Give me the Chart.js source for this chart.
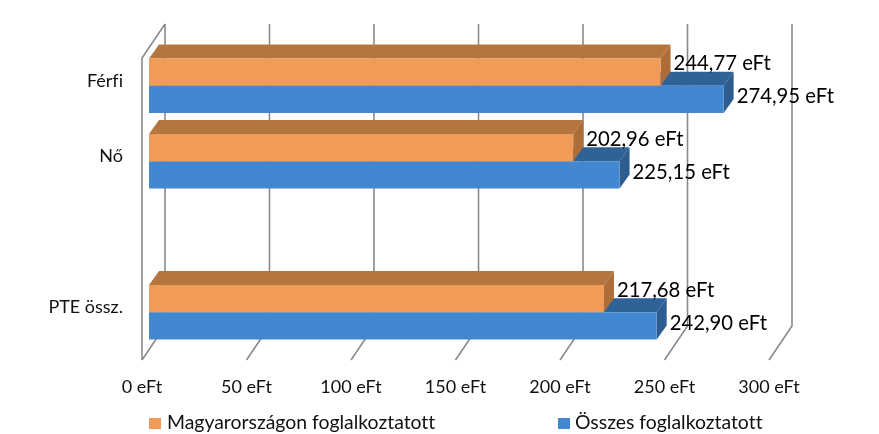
<!DOCTYPE html>
<html>
<head>
<meta charset="utf-8">
<title>Chart</title>
<script src="https://cdn.jsdelivr.net/npm/chart.js@4"></script>
<style>
    body { margin: 0; background: #fff; }
    #wrap { position: relative; width: 879px; height: 434px; overflow: hidden; }
    #chartLegend span { position: absolute; }
    #chartLegend .txt { font: 19.4px Lato, sans-serif; font-variant-ligatures: none; color: #111; top: 410px; white-space: nowrap; }
    #chartLegend .box { width: 12px; height: 11px; top: 418px; }
</style>
</head>
<body>
<div id="wrap">
    <canvas id="chart" width="879" height="434"></canvas>
    <div id="chartLegend"></div>
</div>
<script>
const categories = ['Férfi', 'Nő', '', 'PTE össz.'];
const seriesNames = ['Magyarországon foglalkoztatott', 'Összes foglalkoztatott'];
const hungaryValues = [244.77, 202.96, null, 217.68];
const allValues = [274.95, 225.15, null, 242.90];

const frontColors = ['#f09b57', '#4288d0'];
const topColors = ['#b5753f', '#2f6398'];
const sideColors = ['#ad6d39', '#2c5c90'];
const legendLeft = [149, 558];
const textLeft = [167, 575];

// fake 3d depth of the bars and of the walls, relative to the bar plane
const barDx = 10, barDy = -14;
const wallFrontDx = -7, wallBackDx = 16;
const wallFrontDy = 10, wallBackDy = -24;

function poly(ctx, pts, color) {
    ctx.fillStyle = color;
    ctx.beginPath();
    pts.forEach((p, i) => i ? ctx.lineTo(p[0], p[1]) : ctx.moveTo(p[0], p[1]));
    ctx.closePath();
    ctx.fill();
}

const fake3d = {
    id: 'fake3d',
    beforeDraw(chart) {
        // no "fi" ligature in the tick labels
        chart.ctx.textRendering = 'optimizeSpeed';
    },
    beforeDatasetsDraw(chart) {
        const ctx = chart.ctx;
        const x = chart.scales.x, y = chart.scales.y;
        const floorFront = y.bottom + wallFrontDy, floorBack = y.bottom + wallBackDy;
        const topFront = y.top + wallFrontDy, topBack = y.top + wallBackDy;

        ctx.save();
        ctx.strokeStyle = '#8a8a8a';
        ctx.lineWidth = 1.6;
        x.ticks.forEach(t => {
            const px = x.getPixelForValue(t.value);
            ctx.beginPath();
            ctx.moveTo(px + wallFrontDx, floorFront);
            ctx.lineTo(px + wallBackDx, floorBack);
            ctx.lineTo(px + wallBackDx, topBack);
            ctx.stroke();
        });
        // left wall
        const zero = x.getPixelForValue(0);
        ctx.beginPath();
        ctx.moveTo(zero + wallFrontDx, floorFront);
        ctx.lineTo(zero + wallFrontDx, topFront);
        ctx.lineTo(zero + wallBackDx, topBack);
        ctx.stroke();

        // blue goes first, orange side sits on top of it
        [1, 0].forEach(d => {
            chart.getDatasetMeta(d).data.forEach((bar, i) => {
                if (chart.data.datasets[d].data[i] === null) return;
                const top = bar.y - bar.height / 2, bottom = bar.y + bar.height / 2;
                poly(ctx, [[bar.base, top], [bar.base + barDx, top + barDy], [bar.x + barDx, top + barDy], [bar.x, top]], topColors[d]);
                poly(ctx, [[bar.x, top], [bar.x + barDx, top + barDy], [bar.x + barDx, bottom + barDy], [bar.x, bottom]], sideColors[d]);
            });
        });
        ctx.restore();
    },
    afterDatasetsDraw(chart) {
        const ctx = chart.ctx;
        ctx.save();
        ctx.font = '20.3px Lato, sans-serif';
        ctx.fillStyle = '#000';
        ctx.textBaseline = 'middle';
        chart.data.datasets.forEach((ds, d) => {
            chart.getDatasetMeta(d).data.forEach((bar, i) => {
                if (ds.data[i] === null) return;
                const label = ds.data[i].toFixed(2).replace('.', ',') + ' eFt';
                ctx.fillText(label, bar.x + 13, bar.y + (d === 0 ? -8.5 : -2.5));
            });
        });
        ctx.restore();
    }
};

new Chart(document.getElementById('chart'), {
    type: 'bar',
    data: {
        labels: categories,
        datasets: [
            { label: seriesNames[0], data: hungaryValues, backgroundColor: frontColors[0] },
            { label: seriesNames[1], data: allValues, backgroundColor: frontColors[1] }
        ]
    },
    options: {
        indexAxis: 'y',
        responsive: false,
        animation: false,
        categoryPercentage: 0.723,
        barPercentage: 1,
        layout: { padding: { top: 48, right: 103, left: 0, bottom: 0 } },
        plugins: { legend: { display: false }, tooltip: { enabled: false } },
        scales: {
            x: {
                min: 0,
                max: 300,
                grid: { display: false },
                border: { display: false },
                afterFit: s => { s.height = 84; },
                ticks: {
                    stepSize: 50,
                    autoSkip: false,
                    maxRotation: 0,
                    labelOffset: -7,
                    padding: 18,
                    color: '#111',
                    font: { family: 'Lato, sans-serif', size: 18 },
                    callback: v => v + ' eFt'
                }
            },
            y: {
                grid: { display: false },
                border: { display: false },
                afterFit: s => { s.width = 149; },
                ticks: {
                    autoSkip: false,
                    padding: 18,
                    labelOffset: -5,
                    color: '#111',
                    font: { family: 'Lato, sans-serif', size: 18 }
                }
            }
        }
    },
    plugins: [fake3d]
});

const chartLegendEl = document.getElementById('chartLegend');
seriesNames.forEach((name, i) => {
    const colorBox = document.createElement('span');
    colorBox.className = 'box';
    colorBox.style.left = legendLeft[i] + 'px';
    colorBox.style.backgroundColor = frontColors[i];
    const text = document.createElement('span');
    text.className = 'txt';
    text.style.left = textLeft[i] + 'px';
    text.textContent = name;
    chartLegendEl.appendChild(colorBox);
    chartLegendEl.appendChild(text);
});
</script>
</body>
</html>
